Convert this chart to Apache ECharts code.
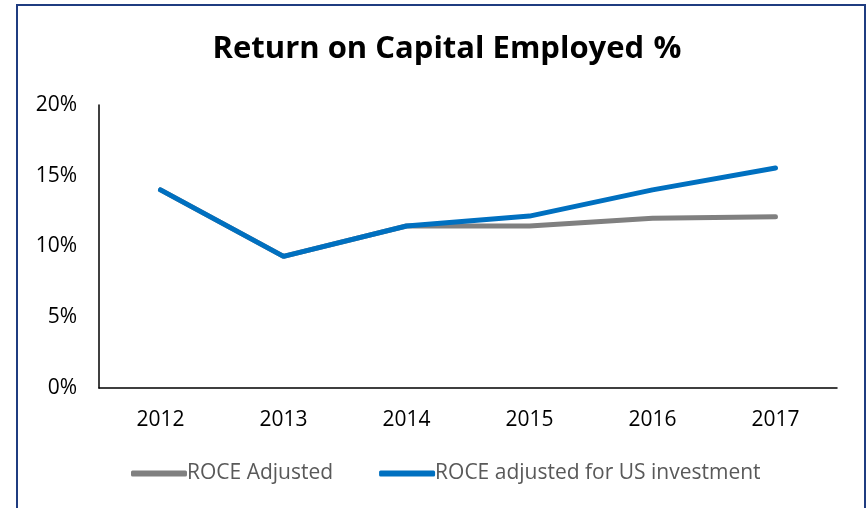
<!DOCTYPE html>
<html>
<head>
<meta charset="utf-8">
<script src="https://cdn.jsdelivr.net/npm/echarts@6/dist/echarts.min.js"></script>
<style>
html,body{margin:0;padding:0;background:#fff;}
#main{width:868px;height:508px;}
</style>
</head>
<body>
<div id="main"></div>
<script>
var years=['2012','2013','2014','2015','2016','2017'];
var roceAdjusted=[14.0,9.3,11.45,11.45,12.0,12.1];
var roceUs=[14.0,9.3,11.45,12.15,14.0,15.55];
var seriesNames=['ROCE Adjusted','ROCE adjusted for US investment'];
var lineColors=['#808080','#0070C0'];

var font='"Open Sans",sans-serif';
var myChart=echarts.init(document.getElementById('main'));
var option={
    animation:false,
    textStyle:{fontFamily:font},
    graphic:[{
        type:'rect',
        shape:{x:17,y:5,width:848,height:540},
        style:{fill:'none',stroke:'#1F3C80',lineWidth:2}
    }],
    title:{
        text:'{b|Return on Capital Employed}  {n|%}',
        left:442,
        textAlign:'center',
        top:29,
        textStyle:{
            rich:{
                b:{fontSize:31,fontWeight:'bold',color:'#000',fontFamily:font},
                n:{fontSize:31,color:'#000',fontFamily:font}
            }
        }
    },
    legend:{
        data:seriesNames,
        top:458,
        left:126,
        itemWidth:56,
        itemHeight:6,
        itemGap:46,
        icon:'roundRect',
        textStyle:{color:'#595959',fontSize:21,fontFamily:font,padding:[0,0,0,-5]}
    },
    grid:{left:99,right:31,top:105,bottom:120},
    xAxis:{
        type:'category',
        data:years,
        boundaryGap:true,
        axisLine:{lineStyle:{color:'#000',width:1.5}},
        axisTick:{show:false},
        axisLabel:{color:'#000',fontSize:21,margin:22}
    },
    yAxis:{
        type:'value',
        min:0,max:20,interval:5,
        axisLine:{show:true,lineStyle:{color:'#000',width:1.5}},
        axisTick:{show:false},
        splitLine:{show:false},
        axisLabel:{color:'#000',fontSize:21,margin:22,formatter:'{value}%'}
    },
    series:[
        {name:seriesNames[0],type:'line',data:roceAdjusted,symbol:'none',
            lineStyle:{color:lineColors[0],width:5,cap:'round'},itemStyle:{color:lineColors[0]}},
        {name:seriesNames[1],type:'line',data:roceUs,symbol:'none',
            lineStyle:{color:lineColors[1],width:5,cap:'round'},itemStyle:{color:lineColors[1]}}
    ]
};
myChart.setOption(option);
</script>
</body>
</html>
